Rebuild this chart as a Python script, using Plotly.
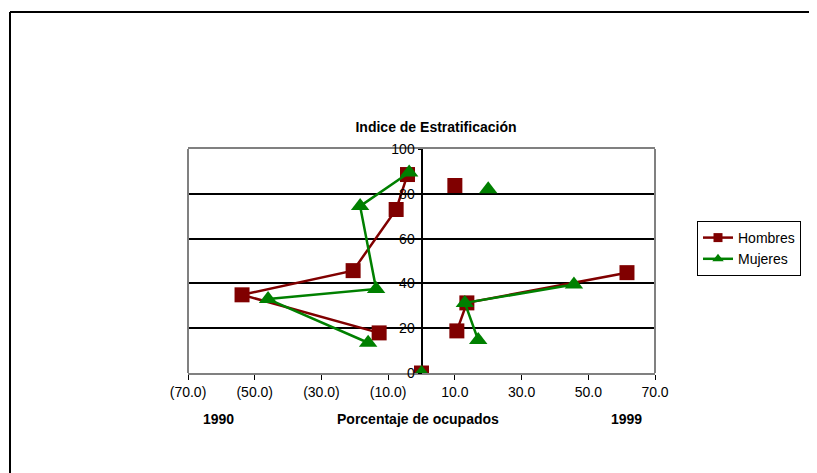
import plotly.graph_objects as go

# Data
hombres_x = [-4.2, -7.6, -20.5, -53.8, -12.7, None, 0.0, None, 10.6, 13.6, 61.6, None, 10.0]
hombres_y = [88.6, 73.0, 45.7, 34.9, 17.9, None, 0.0, None, 18.8, 31.3, 44.8, None, 83.7]
mujeres_x = [-3.7, -18.4, -13.6, -46.0, -16.0, None, 0.0, None, 17.0, 13.0, 45.7, None, 20.0]
mujeres_y = [89.5, 74.5, 37.5, 33.0, 13.5, None, 0.0, None, 14.7, 31.3, 39.5, None, 82.0]

x_tickvals = [-70, -50, -30, -10, 10, 30, 50, 70]
x_ticktext = ["(70.0)", "(50.0)", "(30.0)", "(10.0)", "10.0", "30.0", "50.0", "70.0"]
y_tickvals = [0, 20, 40, 60, 80, 100]

FONT = "Liberation Sans, Arial, sans-serif"
RED = "#800000"
GREEN = "#008000"
FS = 14

fig = go.Figure()
series = [
    ("Hombres", hombres_x, hombres_y, RED, "square", 15, 9),
    ("Mujeres", mujeres_x, mujeres_y, GREEN, "triangle-up", 16, 10),
]
for name, xs, ys, col, sym, size, lsize in series:
    fig.add_trace(go.Scatter(
        x=xs, y=ys, name=name, mode="lines+markers", legendgroup=name, showlegend=False,
        line=dict(color=col, width=2.5),
        marker=dict(symbol=sym, size=size, color=col),
        connectgaps=False,
    ))
for name, xs, ys, col, sym, size, lsize in series:
    # legend-only entries with the smaller legend symbol
    fig.add_trace(go.Scatter(
        x=[None], y=[None], name=name, mode="lines+markers", legendgroup=name,
        line=dict(color=col, width=2.5),
        marker=dict(symbol=sym, size=lsize, color=col),
    ))

OFF = 8  # page body margin offset
W, H = 817 - OFF, 473 - OFF
L, R, T, B = 188 - OFF, 655 - OFF, 149 - OFF, 373 - OFF

px = lambda v: (v - OFF - L) / (R - L)
py = lambda v: (B - (v - OFF)) / (B - T)

fig.update_layout(
    width=W, height=H,
    margin=dict(l=L, r=W - R, t=T, b=H - B, pad=0),
    paper_bgcolor="white", plot_bgcolor="white",
    font=dict(family=FONT, size=FS, color="black"),
    showlegend=True,
    legend=dict(
        x=px(697), y=py(221),
        xanchor="left", yanchor="top",
        bordercolor="black", borderwidth=1,
        font=dict(family=FONT, size=FS, color="black"),
        bgcolor="white", tracegroupgap=0, entrywidth=125,
    ),
    title=dict(
        text="<b>Indice de Estratificación</b>",
        x=(436 - OFF) / W, y=1 - (127 - OFF) / H, xanchor="center", yanchor="middle",
        font=dict(family=FONT, size=FS, color="black"),
    ),
    xaxis=dict(
        range=[-70, 70], tickvals=x_tickvals, ticktext=x_ticktext,
        ticks="outside", ticklen=5, tickcolor="black", tickwidth=1,
        showgrid=False,
        zeroline=True, zerolinecolor="black", zerolinewidth=2,
        showline=True, mirror=True, linecolor="#808080", linewidth=2,
        tickfont=dict(family=FONT, size=FS, color="black"),
        fixedrange=True,
    ),
    yaxis=dict(
        range=[0, 100], tickvals=y_tickvals,
        anchor="free", position=0.5,
        ticks="outside", ticklen=4, tickcolor="black",
        showgrid=True, gridcolor="black", gridwidth=2,
        zeroline=False, showline=False,
        tickfont=dict(family=FONT, size=FS, color="black"),
        fixedrange=True,
    ),
)

# Plot area side borders (gray)
for xv in [0, 1]:
    fig.add_shape(type="line", xref="paper", yref="paper", x0=xv, x1=xv, y0=0, y1=1,
                  line=dict(color="#808080", width=2), layer="above")

# Outer chart border (top and left visible)
fig.add_shape(type="line", xref="paper", yref="paper", x0=px(10), x1=px(830), y0=py(12), y1=py(12),
              line=dict(color="black", width=2))
fig.add_shape(type="line", xref="paper", yref="paper", x0=px(10), x1=px(10), y0=py(12), y1=py(490),
              line=dict(color="black", width=2))

for txt, xc in [("<b>1990</b>", 218), ("<b>Porcentaje de ocupados</b>", 418), ("<b>1999</b>", 626)]:
    fig.add_annotation(text=txt, xref="paper", yref="paper", x=px(xc), y=py(419),
                       xanchor="center", yanchor="middle", showarrow=False,
                       font=dict(family=FONT, size=FS, color="black"))

fig.write_html("out.html")
